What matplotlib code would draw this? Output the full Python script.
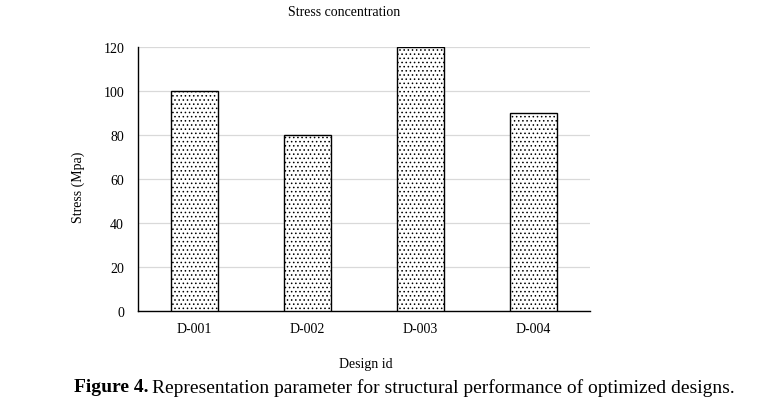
import matplotlib
matplotlib.use('Agg')
import matplotlib.pyplot as plt

# chart data
designs = ["D-001", "D-002", "D-003", "D-004"]
stress = [100, 80, 120, 90]
yticks = [0, 20, 40, 60, 80, 100, 120]

plt.rcParams['font.family'] = ['Liberation Serif', 'DejaVu Serif']
plt.rcParams['hatch.linewidth'] = 0.6

W, H = 776, 406
fig = plt.figure(figsize=(W / 100, H / 100), dpi=100)
ax = fig.add_axes([138 / W, 1 - 312 / H, 452 / W, 264 / H])

x = range(len(designs))
ax.bar(x, stress, width=0.41, color='white', edgecolor='black',
       linewidth=1.0, hatch='....', zorder=3)

ax.set_xlim(-0.5, len(designs) - 0.5)
ax.set_ylim(0, 120)
ax.set_yticks(yticks)
ax.set_xticks(list(x))
ax.set_xticklabels(designs)
ax.grid(axis='y', color='#d9d9d9', linewidth=0.9, zorder=0)
ax.tick_params(length=0, labelsize=10, pad=10)
ax.tick_params(axis='x', pad=8)
for s in ['top', 'right']:
    ax.spines[s].set_visible(False)
for s in ['left', 'bottom']:
    ax.spines[s].set_color('black')
    ax.spines[s].set_linewidth(1.0)

fig.text(344 / W, 1 - 12 / H, "Stress concentration", ha='center', va='center', fontsize=10)
fig.text(78 / W, 1 - 187 / H, "Stress (Mpa)", ha='center', va='center', rotation=90, fontsize=10)
fig.text(366 / W, 1 - 365 / H, "Design id", ha='center', va='center', fontsize=10)

t1 = fig.text(74 / W, 1 - 388 / H, "Figure 4.", ha='left', va='center',
              fontsize=14, fontweight='bold')
fig.canvas.draw()
bb = t1.get_window_extent()
fig.text((bb.x1 + 4) / W, 1 - 388 / H,
         "Representation parameter for structural performance of optimized designs.",
         ha='left', va='center', fontsize=14)

fig.savefig("out.png", dpi=100)
